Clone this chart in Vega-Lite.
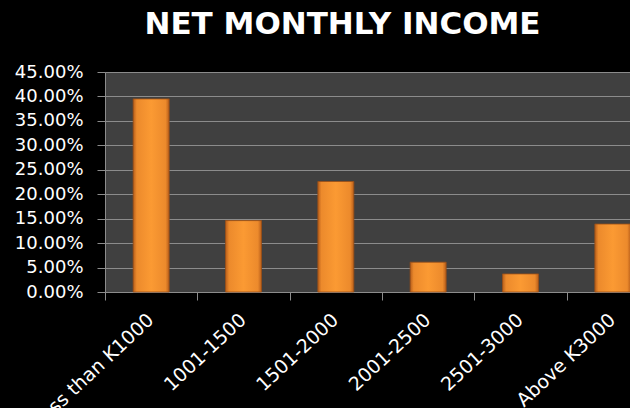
{
  "$schema": "https://vega.github.io/schema/vega-lite/v6.json",
  "autosize": {"type": "none"},
  "width": 525,
  "height": 220,
  "padding": {"left": 105, "top": 72, "right": 0, "bottom": 116},
  "background": "black",
  "title": {
    "text": "NET MONTHLY INCOME",
    "color": "white",
    "font": "DejaVu Sans",
    "fontWeight": "bold",
    "fontSize": 31,
    "anchor": "middle",
    "frame": "group",
    "dx": -25,
    "dy": 30,
    "baseline": "alphabetic",
    "offset": 28
  },
  "data": {
    "values": [
      {"category": "Less than K1000", "share": 0.395},
      {"category": "1001-1500", "share": 0.146},
      {"category": "1501-2000", "share": 0.226},
      {"category": "2001-2500", "share": 0.061},
      {"category": "2501-3000", "share": 0.037},
      {"category": "Above K3000", "share": 0.139}
    ]
  },
  "mark": {
    "type": "bar",
    "width": 36,
    "color": {
      "gradient": "linear",
      "x1": 0, "y1": 0, "x2": 1, "y2": 0,
      "stops": [
        {"offset": 0, "color": "#b85e1a"},
        {"offset": 0.1, "color": "#ec8a2c"},
        {"offset": 0.5, "color": "#fb9a33"},
        {"offset": 0.9, "color": "#ec8a2c"},
        {"offset": 1, "color": "#b85e1a"}
      ]
    },
    "stroke": "#9a4f16",
    "strokeWidth": 0.8
  },
  "encoding": {
    "x": {
      "field": "category",
      "type": "nominal",
      "sort": null,
      "scale": {"range": [0, 554], "paddingInner": 0, "paddingOuter": 0},
      "axis": {
        "title": null,
        "grid": false,
        "tickBand": "extent",
        "labelAngle": -43,
        "labelColor": "white",
        "labelFont": "DejaVu Sans",
        "labelFontSize": 19,
        "labelPadding": 10,
        "labelOffset": -7,
        "tickSize": 8,
        "tickColor": "#8c8c8c",
        "domainColor": "#8c8c8c",
        "labelOverlap": false
      }
    },
    "y": {
      "field": "share",
      "type": "quantitative",
      "scale": {"domain": [0, 0.45], "nice": false},
      "axis": {
        "title": null,
        "values": [0, 0.05, 0.1, 0.15, 0.2, 0.25, 0.3, 0.35, 0.4, 0.45],
        "format": ".2%",
        "labelColor": "white",
        "labelFont": "DejaVu Sans",
        "labelFontSize": 18,
        "labelPadding": 14,
        "tickSize": 8,
        "tickColor": "#8c8c8c",
        "domainColor": "#8c8c8c",
        "gridColor": "#8c8c8c",
        "gridWidth": 1,
        "labelOverlap": false
      }
    }
  },
  "config": {
    "view": {"fill": "#404040", "stroke": null}
  }
}
